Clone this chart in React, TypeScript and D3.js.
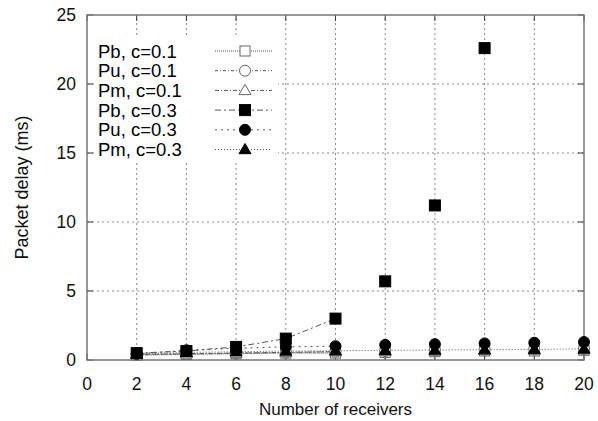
import * as d3 from 'd3'
import { useEffect, useRef } from 'react'

// receivers on the x axis
const receivers = [2, 4, 6, 8, 10, 12, 14, 16, 18, 20]
const xTicks = [0, 2, 4, 6, 8, 10, 12, 14, 16, 18, 20]
const yTicks = [0, 5, 10, 15, 20, 25]

// packet delay (ms) per series
const pbLow = [0.35, 0.4, 0.45, 0.5, 0.5, 0.55, 0.6, 0.65, 0.65, 0.7]
const puLow = [0.4, 0.45, 0.5, 0.55, 0.6, 0.65, 0.7, 0.75, 0.75, 0.8]
const pmLow = [0.4, 0.45, 0.5, 0.55, 0.6, 0.62, 0.65, 0.7, 0.72, 0.75]
const pbHigh = [0.5, 0.65, 0.95, 1.55, 3.0, 5.7, 11.2, 22.6]
const puHigh = [0.45, 0.7, 0.85, 0.95, 1.0, 1.1, 1.15, 1.2, 1.25, 1.3]
const pmHigh = [0.45, 0.55, 0.6, 0.65, 0.67, 0.7, 0.72, 0.75, 0.77, 0.8]

const seriesNames = ['Pb, c=0.1', 'Pu, c=0.1', 'Pm, c=0.1', 'Pb, c=0.3', 'Pu, c=0.3', 'Pm, c=0.3']
const seriesValues = [pbLow, puLow, pmLow, pbHigh, puHigh, pmHigh]
const seriesShapes = ['square', 'circle', 'triangle', 'square', 'circle', 'triangle']
const seriesFilled = [false, false, false, true, true, true]
const seriesDash = ['1,1', '3,2,1,2', '4,2,1,2', '6,3,2,3', '2,4', '1,2']
// connecting lines are only drawn up to this receiver count
const seriesLineEnd = [10, 10, 10, 10, 10, 20]

export default function App () {
    const svgRef = useRef(null)
    const width = 598
    const height = 421
    const margin = { left: 87, right: 14, top: 15, bottom: 61 }

    useEffect(() => {
        const svg = d3.select(svgRef.current)
        svg.selectAll('*').remove()

        const x = d3.scaleLinear().domain([0, 20]).range([margin.left, width - margin.right])
        const y = d3.scaleLinear().domain([0, 25]).range([height - margin.bottom, margin.top])
        const font = 'Liberation Sans, Arial, Helvetica, sans-serif'

        const g = svg.append('g')

        // grid
        g.selectAll('.vgrid').data(xTicks.slice(1, -1)).join('line')
            .attr('x1', d => x(d)).attr('x2', d => x(d))
            .attr('y1', y(0)).attr('y2', y(25))
            .attr('stroke', '#888').attr('stroke-width', 1).attr('stroke-dasharray', '2,3')
        g.selectAll('.hgrid').data(yTicks.slice(1, -1)).join('line')
            .attr('x1', x(0)).attr('x2', x(20))
            .attr('y1', d => y(d)).attr('y2', d => y(d))
            .attr('stroke', '#888').attr('stroke-width', 1).attr('stroke-dasharray', '2,3')

        // legend background hides the grid
        g.append('rect').attr('x', 94).attr('y', 37).attr('width', 184).attr('height', 123).attr('fill', 'white')

        // ticks on all four sides
        const tl = 6
        xTicks.forEach(t => {
            g.append('line').attr('x1', x(t)).attr('x2', x(t)).attr('y1', y(0)).attr('y2', y(0) - tl).attr('stroke', '#333')
            g.append('line').attr('x1', x(t)).attr('x2', x(t)).attr('y1', y(25)).attr('y2', y(25) + tl).attr('stroke', '#333')
            g.append('text').attr('x', x(t)).attr('y', y(0) + 30).attr('text-anchor', 'middle')
                .attr('font-family', font).attr('font-size', 17.5).attr('fill', '#111').text(t)
        })
        yTicks.forEach(t => {
            g.append('line').attr('x1', x(0)).attr('x2', x(0) + tl).attr('y1', y(t)).attr('y2', y(t)).attr('stroke', '#333')
            g.append('line').attr('x1', x(20)).attr('x2', x(20) - tl).attr('y1', y(t)).attr('y2', y(t)).attr('stroke', '#333')
            g.append('text').attr('x', x(0) - 11).attr('y', y(t) + 6).attr('text-anchor', 'end')
                .attr('font-family', font).attr('font-size', 17.5).attr('fill', '#111').text(t)
        })

        // border
        g.append('rect').attr('x', x(0)).attr('y', y(25)).attr('width', x(20) - x(0)).attr('height', y(0) - y(25))
            .attr('fill', 'none').attr('stroke', '#777').attr('stroke-width', 1.5)

        // axis titles
        g.append('text').attr('x', (x(0) + x(20)) / 2).attr('y', 415).attr('text-anchor', 'middle')
            .attr('font-family', font).attr('font-size', 17).attr('fill', '#111').text('Number of receivers')
        g.append('text').attr('transform', `translate(28,${(y(0) + y(25)) / 2}) rotate(-90)`).attr('text-anchor', 'middle')
            .attr('font-family', font).attr('font-size', 18).attr('fill', '#111').text('Packet delay (ms)')

        const drawMarker = (sel, shape, filled, cx, cy) => {
            const fill = filled ? '#000' : 'white'
            const stroke = filled ? '#000' : '#666'
            if (shape === 'square') {
                const s = filled ? 11 : 10
                sel.append('rect').attr('x', cx - s / 2).attr('y', cy - s / 2).attr('width', s).attr('height', s)
                    .attr('fill', fill).attr('stroke', stroke).attr('stroke-width', 1)
            } else if (shape === 'circle') {
                sel.append('circle').attr('cx', cx).attr('cy', cy).attr('r', 5.5)
                    .attr('fill', fill).attr('stroke', stroke).attr('stroke-width', 1)
            } else {
                const s = 6
                sel.append('path').attr('d', `M${cx},${cy - s}L${cx + s},${cy + s * 0.7}L${cx - s},${cy + s * 0.7}Z`)
                    .attr('fill', fill).attr('stroke', stroke).attr('stroke-width', 1)
            }
        }

        const line = d3.line().x(d => x(d[0])).y(d => y(d[1]))

        // lines first, then markers (open ones under filled)
        seriesValues.forEach((vals, i) => {
            const pts = vals.map((v, j) => [receivers[j], v]).filter(p => p[0] <= seriesLineEnd[i])
            g.append('path').attr('d', line(pts)).attr('fill', 'none')
                .attr('stroke', '#555').attr('stroke-width', 1).attr('stroke-dasharray', seriesDash[i])
        })
        seriesValues.forEach((vals, i) => {
            vals.forEach((v, j) => drawMarker(g, seriesShapes[i], seriesFilled[i], x(receivers[j]), y(v)))
        })

        // legend
        seriesNames.forEach((name, i) => {
            const cy = 51 + i * 19.7
            g.append('text').attr('x', 98).attr('y', cy + 6.5).attr('font-family', font).attr('font-size', 18.5)
                .attr('fill', '#000').text(name)
            g.append('line').attr('x1', 215).attr('x2', 272).attr('y1', cy).attr('y2', cy)
                .attr('stroke', '#555').attr('stroke-dasharray', seriesDash[i])
            drawMarker(g, seriesShapes[i], seriesFilled[i], 245, cy)
        })
    }, [])

    return (
        <svg ref={svgRef} width={width} height={height}
            style={{ position: 'absolute', left: 0, top: 0, background: 'white' }}></svg>
    )
}
